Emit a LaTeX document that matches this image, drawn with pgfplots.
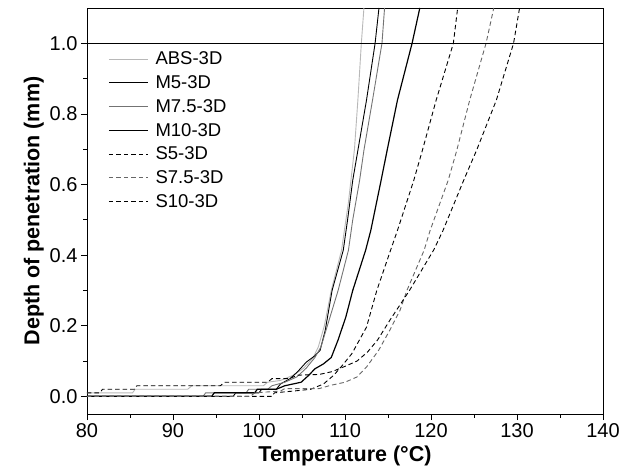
\documentclass[border=0pt]{standalone}
\usepackage{pgfplots}
\pgfplotsset{compat=1.18}
\usepackage{fontspec}
\setmainfont{Liberation Sans}
\definecolor{absgray}{gray}{0.72}
\definecolor{midgray}{gray}{0.45}
\definecolor{dashgray}{gray}{0.40}
\begin{document}
\begin{tikzpicture}
\useasboundingbox (-87bp,-62bp) rectangle (532bp,414bp);
\begin{axis}[
  scale only axis,
  width=516bp, height=406bp,
  xmin=80, xmax=140, ymin=-0.05, ymax=1.1,
  xtick={80,90,...,140},
  ytick={0,0.2,0.4,0.6,0.8,1.0},
  minor x tick num=1, minor y tick num=1,
  tick align=outside,
  xtick pos=bottom, ytick pos=left,
  major tick length=6bp, minor tick length=3.5bp,
  axis line style={line width=0.9bp},
  every tick/.style={black, line width=0.8bp},
  /pgf/number format/assume math mode=true,
  yticklabel style={/pgf/number format/.cd, fixed, fixed zerofill, precision=1},
  xticklabel style={/pgf/number format/.cd, fixed, precision=0},
  tick label style={font=\fontsize{20bp}{22bp}\selectfont},
  xlabel={\textbf{Temperature (°C)}},
  ylabel={\textbf{Depth of penetration (mm)}},
  label style={font=\fontsize{21.5bp}{24bp}\selectfont},
  xlabel style={yshift=-1bp},
  ylabel style={yshift=-1bp},
  legend style={draw=none, fill=none, at={(0.041,0.897)}, anchor=north west,
    font=\fontsize{18.5bp}{20bp}\selectfont, row sep=5.3bp,
    inner sep=0pt},
  legend cell align=left,
  legend image code/.code={\draw[#1] (0bp,0bp) -- (39bp,0bp); \path (44bp,0bp);},
  every axis plot/.append style={no markers, line width=0.9bp},
]
\addplot[absgray] coordinates {(80,0.01)(85.3,0.01)(85.6,0.02)(91.7,0.02)(92.2,0.03)(100.5,0.03)(101,0.04)(102.5,0.045)(104,0.06)(105.2,0.08)(106.3,0.11)(106.9,0.14)(107.6,0.2)(108.4,0.3)(109.6,0.414)(110.4,0.55)(111.1,0.7)(111.5,0.84)(111.9,1.0)(112.2,1.1)};
\addlegendentry{ABS-3D}
\addplot[black] coordinates {(80,0)(97,0)(97.3,0.01)(100,0.01)(100.3,0.02)(102,0.02)(102.5,0.035)(103.6,0.05)(104.5,0.07)(105.5,0.097)(106.5,0.115)(107.1,0.13)(107.7,0.187)(108.5,0.3)(109.8,0.414)(110.3,0.5)(110.9,0.612)(111.5,0.697)(112.5,0.839)(113.5,1.0)(113.95,1.1)};
\addlegendentry{M5-3D}
\addplot[midgray] coordinates {(80,0)(93.5,0)(93.8,0.01)(98.5,0.01)(98.8,0.02)(101,0.02)(101.5,0.03)(103,0.04)(104.4,0.055)(105.5,0.08)(106.5,0.11)(107.2,0.14)(108.2,0.22)(109.2,0.3)(110.4,0.414)(110.9,0.5)(111.7,0.612)(112.2,0.697)(113.2,0.839)(114.3,1.0)(114.6,1.1)};
\addlegendentry{M7.5-3D}
\addplot[black, line width=1.2bp] coordinates {(80,0)(94.5,0)(94.8,0.01)(99.5,0.01)(99.8,0.02)(102,0.02)(103,0.03)(104.9,0.04)(105.8,0.06)(106.5,0.078)(107.5,0.092)(108.4,0.11)(109.2,0.16)(110.1,0.225)(110.9,0.3)(112.4,0.414)(113.0,0.47)(114.2,0.612)(114.9,0.697)(116.1,0.839)(117.8,1.0)(118.7,1.1)};
\addlegendentry{M10-3D}
\addplot[black, dash pattern=on 4.5bp off 3bp] coordinates {(80,0)(101.5,0)(101.8,0.01)(104,0.015)(106,0.02)(107.5,0.035)(108.7,0.06)(109.6,0.085)(110.8,0.121)(112.5,0.196)(113.7,0.3)(115.3,0.414)(116.1,0.47)(118.0,0.612)(119.0,0.697)(120.6,0.839)(122.6,1.0)(123.1,1.1)};
\addlegendentry{S5-3D}
\addplot[dashgray, dash pattern=on 4.5bp off 3bp] coordinates {(80,0)(99,0)(99.5,0.01)(102.5,0.015)(103,0.022)(107,0.022)(108.3,0.031)(110,0.04)(111.4,0.055)(112.5,0.083)(113.9,0.13)(115.2,0.187)(116.4,0.244)(117.2,0.3)(119.2,0.414)(119.9,0.47)(122.0,0.612)(123.0,0.697)(124.5,0.839)(126.4,1.0)(127.3,1.1)};
\addlegendentry{S7.5-3D}
\addplot[black, dash pattern=on 4.5bp off 3bp] coordinates {(80,0.01)(81.5,0.01)(81.8,0.02)(85.5,0.02)(85.8,0.03)(95.5,0.03)(96,0.04)(101,0.04)(101.5,0.05)(103.5,0.05)(104.5,0.06)(107,0.062)(108.5,0.07)(110,0.085)(111.4,0.10)(112.6,0.125)(113.8,0.16)(115.2,0.215)(117.5,0.3)(120.3,0.414)(121.4,0.47)(123.8,0.612)(125.3,0.697)(127.6,0.839)(129.6,1.0)(130.3,1.1)};
\addlegendentry{S10-3D}
\addplot[black, line width=0.8bp, forget plot] coordinates {(80,1)(140,1)};
\end{axis}
\end{tikzpicture}
\end{document}
